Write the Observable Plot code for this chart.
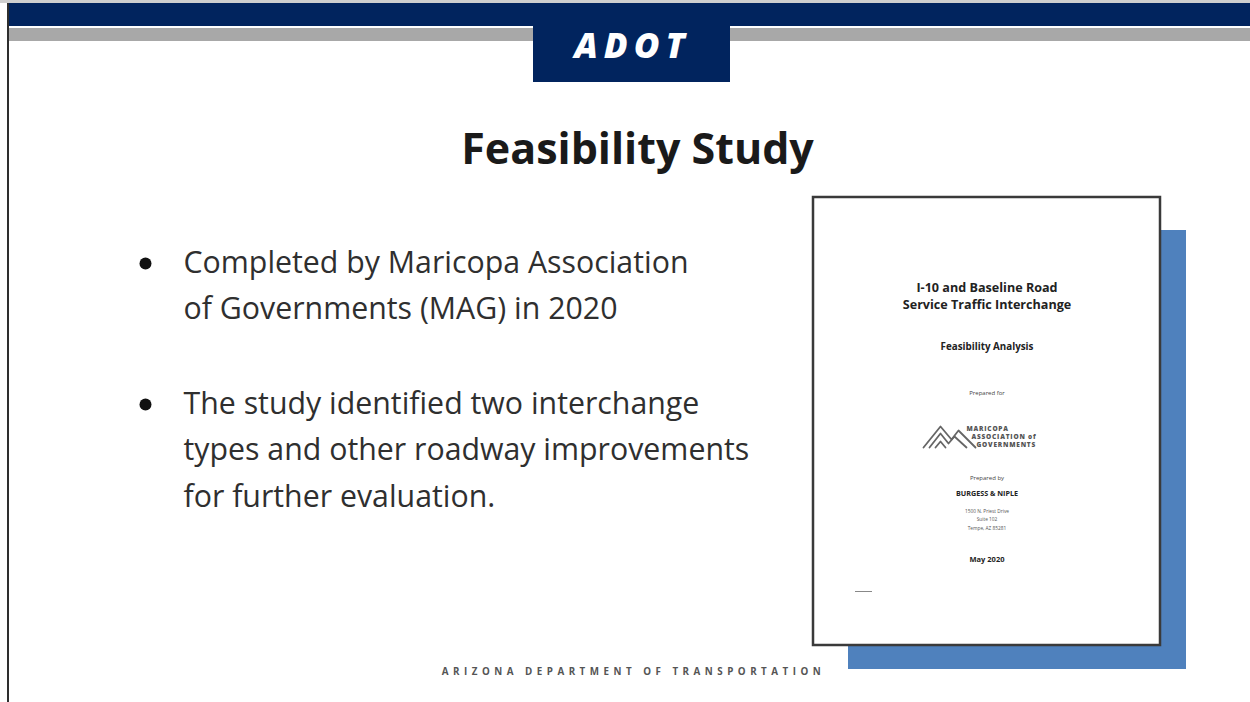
<!DOCTYPE html>
<html><head><meta charset="utf-8">
<script src="https://cdn.jsdelivr.net/npm/d3@7"></script>
<script src="https://cdn.jsdelivr.net/npm/@observablehq/plot@0.6"></script>
<style>html,body{margin:0;padding:0;background:#fff;overflow:hidden}</style>
</head><body><div id="chart"></div>
<script>
// ---- content (data) ----
const brand = "ADOT";
const slideTitle = "Feasibility Study";
const bullets = [
  ["Completed by Maricopa Association", "of Governments (MAG) in 2020"],
  ["The study identified two interchange", "types and other roadway improvements", "for further evaluation."]
];
const docTitle = ["I-10 and Baseline Road", "Service Traffic Interchange"];
const docSubtitle = "Feasibility Analysis";
const docPreparedFor = "Prepared for";
const docClient = ["MARICOPA", "ASSOCIATION of", "GOVERNMENTS"];
const docPreparedBy = "Prepared by";
const docFirm = "BURGESS & NIPLE";
const docAddress = ["1500 N. Priest Drive", "Suite 102", "Tempe, AZ 85281"];
const docDate = "May 2020";
const footer = "ARIZONA DEPARTMENT OF TRANSPORTATION";

// ---- layout ----
const W = 1250, H = 702;
const navy = "#01245e", gray = "#a8a8a8", blue = "#4f81bd";
const font = "'Open Sans', sans-serif";
const bulletBase = [272, 413], lineGap = 46.5, textX = 183, dotX = 145;
const page = {x1: 813, x2: 1160, y1: 197, y2: 645};
const shadow = {x1: 848, x2: 1186, y1: 230, y2: 669};
const cx = (page.x1 + page.x2) / 2;

const bulletLines = bullets.flatMap((lines, b) => lines.map((t, i) => ({t, y: bulletBase[b] + i * lineGap})));
const bulletDots = bullets.map((_, b) => ({y: bulletBase[b] - 9}));

const R = (o, fill, extra = {}) => Plot.rect([o], {x1: "x1", x2: "x2", y1: "y1", y2: "y2", fill, ...extra});
const T = (rows, opts) => Plot.text(rows, {x: "x", y: "y", text: "t", lineAnchor: "bottom", fontFamily: font, ...opts});

const docRows = (lines, y0, gap) => lines.map((t, i) => ({t, x: cx, y: y0 + i * gap}));

// MAG logo mountains (relative outline)
const logoX = 923, logoY = 447;
const mountain = [[0,0],[17,-21],[28,-8],[35,-17],[52,0]];
const mountain2 = [[6,0],[17,-14],[25,-4],[31,-11],[43,0]];
const mountain3 = [[12,0],[17,-6],[22,0]];
const mtn = (pts, k) => pts.map(([dx, dy]) => ({x: logoX + dx, y: logoY + dy, k}));

const chart = Plot.plot({
  width: W, height: H, margin: 0,
  x: {domain: [0, W], range: [0, W], axis: null},
  y: {domain: [0, H], range: [0, H], axis: null},
  style: {background: "#fff", fontFamily: font},
  marks: [
    // header
    R({x1: 0, x2: W, y1: 0, y2: 3}, "#cfcfcf"),
    R({x1: 7, x2: W, y1: 3, y2: 26}, navy),
    R({x1: 7, x2: W, y1: 28, y2: 41}, gray),
    R({x1: 7, x2: 9, y1: 3, y2: H}, "#2e2e2e"),
    R({x1: 533, x2: 730, y1: 24, y2: 82}, navy),
    T([{t: brand, x: 632, y: 57}], {fill: "#fff", fontSize: 35, fontWeight: 800, fontStyle: "italic", textAnchor: "middle"}),
    // title
    T([{t: slideTitle, x: 637, y: 163}], {fill: "#1a1a1a", fontSize: 43, fontWeight: 700, textAnchor: "middle"}),
    // bullets
    Plot.dot(bulletDots, {x: () => dotX, y: "y", r: 6, fill: "#111", stroke: null}),
    Plot.text(bulletLines, {x: () => textX, y: "y", text: "t", lineAnchor: "bottom", textAnchor: "start", fontFamily: font, fontSize: 30.3, fill: "#2f2f2f"}),
    // document
    R(shadow, blue),
    R(page, "#fff", {stroke: "#3a3a3a", strokeWidth: 2.5}),
    T(docRows(docTitle, 291, 17), {fontSize: 12.6, fontWeight: 700, fill: "#222", textAnchor: "middle"}),
    T(docRows([docSubtitle], 349, 0), {fontSize: 9.8, fontWeight: 700, fill: "#222", textAnchor: "middle"}),
    T(docRows([docPreparedFor], 394, 0), {fontSize: 6, fill: "#444", textAnchor: "middle"}),
    Plot.line([...mtn(mountain, "a"), ...mtn(mountain2, "b"), ...mtn(mountain3, "c")], {x: "x", y: "y", z: "k", stroke: "#666", strokeWidth: 1.8}),
    Plot.text(docClient.map((t, i) => ({t, x: logoX + 43 + i * 5, y: 430 + i * 8})), {x: "x", y: "y", text: "t", lineAnchor: "bottom", textAnchor: "start", fontFamily: font, fontSize: 6.5, fontWeight: 800, fill: "#555"}),
    T(docRows([docPreparedBy], 479, 0), {fontSize: 6, fill: "#444", textAnchor: "middle"}),
    T(docRows([docFirm], 495, 0), {fontSize: 7.2, fontWeight: 700, fill: "#222", textAnchor: "middle"}),
    T(docRows(docAddress, 512, 8.5), {fontSize: 4.8, fill: "#555", textAnchor: "middle"}),
    T(docRows([docDate], 561, 0), {fontSize: 7.5, fontWeight: 700, fill: "#222", textAnchor: "middle"}),
    Plot.ruleY([{y: 591}], {y: "y", x1: () => 855, x2: () => 872, stroke: "#888", strokeWidth: 1}),
    // footer
    T([{t: footer, x: 633, y: 674}], {fontSize: 9.8, fontWeight: 700, fill: "#555", textAnchor: "middle"})
  ]
});
document.getElementById("chart").appendChild(chart);

// letter spacing for brand/footer/logo text
d3.select(chart).selectAll("text").each(function () {
  const s = this.textContent;
  if (s === footer) this.setAttribute("letter-spacing", "4.5");
  if (s === brand) this.setAttribute("letter-spacing", "6");
  if (docClient.includes(s)) this.setAttribute("letter-spacing", "0.8");
});
</script>
</body></html>
